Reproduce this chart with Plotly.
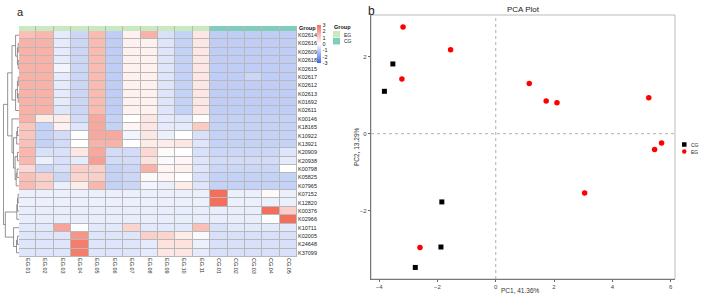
import plotly.graph_objects as go

# ---------------- data ----------------
samples = ["EG.01", "EG.02", "EG.03", "EG.04", "EG.05", "EG.06", "EG.07", "EG.08",
           "EG.09", "EG.10", "EG.11", "CG.01", "CG.02", "CG.03", "CG.04", "CG.05"]
groups = ["EG"] * 11 + ["CG"] * 5
group_names = ["EG", "CG"]
group_colors = ["#C9E9C1", "#80CDBA"]

genes = ["K02614", "K02616", "K02609", "K02618", "K02615", "K02617", "K02612", "K02613",
         "K01692", "K02611", "K00146", "K18165", "K10922", "K13921", "K20909", "K20938",
         "K00798", "K05825", "K07965", "K07152", "K12820", "K00376", "K02966", "K10711",
         "K02005", "K24648", "K37099"]

hm_values = [
    [1.3, 1.5, -0.4, -0.8, 1.4, -1.0, 0.3, 1.6, -0.6, -0.9, 0.5, -1.0, -1.0, -1.0, -1.0, -1.0],
    [1.6, 1.6, -0.4, -0.8, 1.4, -1.0, 0.3, 0.3, -0.5, -0.9, 0.5, -1.0, -1.0, -1.0, -1.0, -1.0],
    [1.6, 1.6, -0.4, -0.8, 1.4, -1.0, 0.3, 0.3, -0.5, -0.9, 0.5, -1.0, -1.0, -1.0, -1.0, -1.0],
    [1.6, 1.6, -0.4, -0.8, 1.4, -1.0, 0.3, 0.3, -0.5, -0.9, 0.5, -1.0, -1.0, -1.0, -1.0, -1.0],
    [1.6, 1.6, -0.2, -0.8, 1.4, -1.0, 0.3, 0.3, -0.5, -0.9, 0.5, -1.0, -1.0, -1.0, -1.0, -1.0],
    [1.6, 1.6, -0.4, -0.8, 1.4, -1.0, 0.3, 0.3, -0.5, -0.9, 0.5, -1.0, -1.0, -0.8, -1.0, -1.0],
    [1.6, 1.6, -0.4, -0.8, 1.4, -1.0, 0.3, 0.3, -0.5, -0.9, 0.5, -1.0, -1.0, -1.0, -1.0, -1.0],
    [1.6, 1.6, -0.4, -0.8, 1.4, -1.0, 0.3, 0.3, -0.5, -0.9, 0.5, -1.0, -1.0, -1.0, -1.0, -1.0],
    [1.6, 1.6, -0.4, -0.8, 1.4, -1.0, 0.3, 0.3, -0.5, -0.9, 0.5, -1.0, -1.0, -1.0, -1.0, -1.0],
    [1.6, 1.6, -0.5, -0.8, 1.4, -1.0, 0.3, 0.3, -0.5, -0.9, 0.5, -1.0, -1.0, -1.0, -1.0, -1.0],
    [1.6, 0.4, 0.4, -0.7, 1.8, -0.9, 0.0, 0.5, -0.4, -0.5, 0.05, -0.9, -0.9, -0.9, -0.9, -0.9],
    [1.2, -0.9, 0.3, -0.5, 1.8, -0.9, 0.2, 0.5, -0.4, -0.4, 1.1, -0.9, -0.9, -0.9, -0.9, -0.9],
    [1.2, -0.9, -0.7, -0.05, 1.8, 1.8, -0.2, 0.5, -0.3, 0.0, -0.6, -0.9, -0.9, -0.9, -0.9, -0.9],
    [1.3, -0.9, -0.7, 0.0, 1.6, 1.6, 0.0, 0.4, 0.4, 0.5, -0.5, -0.9, -0.9, -0.9, -0.9, -0.9],
    [1.5, -0.6, -0.6, 0.5, 1.8, -0.7, -0.7, 0.8, 0.1, 0.0, -0.6, -0.8, -0.8, -0.8, -0.8, -0.5],
    [1.5, -0.3, -0.6, -0.4, 2.0, -0.7, -0.7, 0.6, -0.1, 0.2, -0.5, -0.7, -0.7, -0.7, -0.7, -0.4],
    [0.8, -0.8, -0.6, 1.0, 1.0, -0.9, -0.8, 1.6, 0.2, 0.3, -0.5, -0.8, -0.8, -0.8, -0.8, 0.0],
    [1.3, 1.0, -0.8, 0.9, 1.0, -0.9, -0.8, 0.1, 0.2, 0.0, -0.6, -0.9, -0.9, -0.9, -0.9, -0.9],
    [1.4, 1.0, -0.3, 0.4, 1.5, -0.9, -0.8, -0.2, -0.3, 0.4, -0.5, -0.9, -0.9, -0.9, -0.9, -0.9],
    [-0.3, -0.3, -0.3, -0.3, -0.3, -0.3, -0.3, -0.3, -0.3, -0.3, -0.3, 3.0, -0.3, -0.3, 0.1, -0.3],
    [-0.3, -0.3, -0.3, -0.3, -0.3, -0.3, -0.3, -0.3, -0.3, -0.3, -0.3, 3.0, -0.3, -0.3, -0.3, -0.3],
    [-0.35, -0.35, -0.35, -0.35, -0.35, -0.35, -0.35, -0.35, -0.35, -0.35, -0.35, -0.35, -0.35, -0.35, 3.0, 1.0],
    [-0.35, -0.35, -0.35, -0.35, -0.35, -0.35, -0.35, -0.35, -0.35, -0.35, -0.35, -0.35, -0.35, -0.35, 0.0, 3.0],
    [-0.45, -0.45, 1.9, 0.0, -0.45, -0.45, 0.9, -0.45, -0.45, -0.45, 1.3, -0.6, -0.45, -0.45, -0.45, -0.45],
    [-0.5, -0.5, -0.5, 2.2, -0.5, -0.5, -0.5, 1.0, 0.9, 0.4, -0.1, -0.6, -0.6, -0.6, -0.6, -0.6],
    [-0.5, -0.5, -0.5, 2.7, -0.5, -0.5, -0.5, -0.4, 0.6, 0.6, -0.3, -0.6, -0.6, -0.6, -0.6, -0.6],
    [-0.5, -0.5, -0.5, 2.7, -0.5, -0.5, -0.5, -0.4, 0.5, 0.5, -0.4, -0.6, -0.6, -0.6, -0.6, -0.6],
]

# row dendrogram merges: (child a, child b, height); ids >= 27 are earlier merges
row_linkage = [
    (1, 2, 0.5), (3, 4, 0.5), (27, 28, 1.0), (0, 29, 2.2),
    (5, 6, 0.5), (7, 8, 0.5), (31, 32, 1.0), (33, 9, 2.2),
    (30, 34, 4.5),
    (11, 12, 1.0), (36, 13, 1.5), (14, 15, 1.0), (16, 17, 1.2), (39, 18, 1.8),
    (38, 40, 2.5), (37, 41, 3.5), (10, 42, 4.5),
    (35, 43, 7.3),
    (19, 20, 0.6), (45, 21, 1.0), (46, 22, 1.4), (24, 25, 1.0), (48, 26, 1.6),
    (23, 49, 3.5), (47, 50, 8.8),
    (44, 51, 10.0),
]

scale_ticks = [3, 2, 1, 0, -1, -2, -3]

pca_groups = ["CG", "EG"]
pca_colors = ["#000000", "#FF0000"]
pca_symbols = ["square", "circle"]
pca_cg_x = [-3.53, -3.82, -1.85, -1.88, -2.76]
pca_cg_y = [1.81, 1.10, -1.77, -2.94, -3.47]
pca_eg_x = [-3.18, -1.55, -3.22, 1.15, 1.73, 2.10, 5.25, 5.69, 5.45, 3.05, -2.60]
pca_eg_y = [2.77, 2.18, 1.42, 1.30, 0.85, 0.80, 0.93, -0.24, -0.41, -1.54, -2.95]
pca_x_ticks = [-4, -2, 0, 2, 4, 6]
pca_y_ticks = [-2, 0, 2]

# ---------------- layout helpers ----------------
W, H = 708, 300
FONT = "Liberation Sans, Arial, sans-serif"


def px(x):
    return x / W


def py(y):
    return 1 - y / H


fig = go.Figure()

n_rows = len(genes)
n_cols = len(samples)

# heatmap
colorscale = [[0.0, "#3F6AE6"], [0.5, "#FFFFFF"], [1.0, "#F46E5C"]]
fig.add_trace(go.Heatmap(
    z=hm_values, x=list(range(n_cols)), y=list(range(n_rows)),
    zmin=-3, zmax=3, colorscale=colorscale, xgap=1, ygap=1,
    xaxis="x", yaxis="y", hoverinfo="skip",
    colorbar=dict(thickness=4, thicknessmode="pixels", len=38, lenmode="pixels",
                  x=px(317), xanchor="left", y=py(25), yanchor="top",
                  xpad=0, ypad=0, outlinewidth=0, tickvals=scale_ticks,
                  ticktext=[str(t) for t in scale_ticks], ticks="",
                  tickfont=dict(size=5.5, family=FONT, color="#222")),
))

# group annotation bar
gidx = [group_names.index(g) for g in groups]
fig.add_trace(go.Heatmap(
    z=[gidx], x=list(range(n_cols)), y=[0], zmin=0, zmax=1,
    colorscale=[[0, group_colors[0]], [0.5, group_colors[0]], [0.5, group_colors[1]], [1, group_colors[1]]],
    showscale=False, xgap=1, ygap=0, xaxis="x", yaxis="y2", hoverinfo="skip",
))

# dendrogram
pos = {i: float(i) for i in range(n_rows)}
hgt = {i: 0.0 for i in range(n_rows)}
dx, dy = [], []
for k, (a, b, h) in enumerate(row_linkage):
    cid = n_rows + k
    for c in (a, b):
        dx += [hgt[c], h, None]
        dy += [pos[c], pos[c], None]
    dx += [h, h, None]
    dy += [pos[a], pos[b], None]
    pos[cid] = (pos[a] + pos[b]) / 2
    hgt[cid] = h
fig.add_trace(go.Scatter(x=dx, y=dy, mode="lines", line=dict(color="#666666", width=0.7),
                         xaxis="x3", yaxis="y", showlegend=False, hoverinfo="skip"))

# PCA
fig.add_trace(go.Scatter(x=pca_cg_x, y=pca_cg_y, mode="markers", name="CG", showlegend=False,
                         marker=dict(symbol=pca_symbols[0], size=5, color=pca_colors[0]),
                         xaxis="x4", yaxis="y4"))
fig.add_trace(go.Scatter(x=pca_eg_x, y=pca_eg_y, mode="markers", name="EG", showlegend=False,
                         marker=dict(symbol=pca_symbols[1], size=5.5, color=pca_colors[1]),
                         xaxis="x4", yaxis="y4"))

shapes = [
    dict(type="rect", xref="x domain", yref="y domain", x0=0, x1=1, y0=0, y1=1,
         fillcolor="#B8B8B8", line=dict(width=0), layer="below"),
    dict(type="rect", xref="x domain", yref="y2 domain", x0=0, x1=1, y0=0, y1=1,
         fillcolor="#B8B8B8", line=dict(width=0), layer="below"),
    dict(type="rect", xref="x4 domain", yref="y4 domain", x0=0, x1=1, y0=0, y1=1,
         line=dict(color="#BBBBBB", width=1), layer="below"),
    dict(type="line", xref="x4", yref="y4 domain", x0=0, x1=0, y0=0, y1=1,
         line=dict(color="#999999", width=0.8, dash="dot")),
    dict(type="line", xref="x4 domain", yref="y4", x0=0, x1=1, y0=0, y1=0,
         line=dict(color="#999999", width=0.8, dash="dot")),
]
# group legend swatches
for i, (gname, gcol) in enumerate(zip(group_names, group_colors)):
    y0 = 31 + i * 7
    shapes.append(dict(type="rect", xref="paper", yref="paper", x0=px(333), x1=px(340),
                       y0=py(y0 + 6.5), y1=py(y0), fillcolor=gcol, line=dict(width=0)))
# PCA legend swatches
for i, (gname, gcol, sym) in enumerate(zip(pca_groups, pca_colors, pca_symbols)):
    yc = 144.5 + i * 7
    shapes.append(dict(type="rect" if sym == "square" else "circle", xref="paper", yref="paper",
                       x0=px(682), x1=px(686.5), y0=py(yc + 2.25), y1=py(yc - 2.25),
                       fillcolor=gcol, line=dict(width=0)))

annotations = [
    dict(text="a", x=px(15), y=py(12), xref="paper", yref="paper", showarrow=False,
         xanchor="left", yanchor="middle", font=dict(size=11, family=FONT, color="#222")),
    dict(text="b", x=px(366), y=py(11), xref="paper", yref="paper", showarrow=False,
         xanchor="left", yanchor="middle", font=dict(size=12, family=FONT, color="#222")),
    dict(text="<b>Group</b>", x=px(297), y=py(27.5), xref="paper", yref="paper", showarrow=False,
         xanchor="left", yanchor="middle", font=dict(size=5.5, family=FONT, color="#111")),
    dict(text="<b>Group</b>", x=px(332), y=py(26.5), xref="paper", yref="paper", showarrow=False,
         xanchor="left", yanchor="middle", font=dict(size=5.5, family=FONT, color="#111")),
    dict(text="PCA Plot", x=px(523), y=py(10), xref="paper", yref="paper", showarrow=False,
         xanchor="center", yanchor="middle", font=dict(size=8, family=FONT, color="#222")),
    dict(text="PC1, 41.36%", x=px(520), y=py(290), xref="paper", yref="paper", showarrow=False,
         xanchor="center", yanchor="middle", font=dict(size=6.5, family=FONT, color="#333")),
    dict(text="PC2, 13.29%", x=px(356), y=py(147), xref="paper", yref="paper", showarrow=False,
         textangle=-90, xanchor="center", yanchor="middle", font=dict(size=6.5, family=FONT, color="#333")),
]
for i, gname in enumerate(group_names):
    annotations.append(dict(text=gname, x=px(342), y=py(34.5 + i * 7), xref="paper", yref="paper",
                            showarrow=False, xanchor="left", yanchor="middle",
                            font=dict(size=5, family=FONT, color="#222")))
for i, gname in enumerate(pca_groups):
    annotations.append(dict(text=gname, x=px(689), y=py(144.5 + i * 7), xref="paper", yref="paper",
                            showarrow=False, xanchor="left", yanchor="middle",
                            font=dict(size=5, family=FONT, color="#222")))

fig.update_layout(
    width=W, height=H, margin=dict(l=0, r=0, t=0, b=0),
    paper_bgcolor="white", plot_bgcolor="white",
    font=dict(family=FONT, size=6, color="#333"),
    showlegend=False,
    xaxis=dict(domain=[px(19), px(297)], anchor="y", range=[-0.5, n_cols - 0.5],
               tickvals=list(range(n_cols)), ticktext=samples, tickangle=90, ticks="",
               showgrid=False, zeroline=False, showline=False,
               tickfont=dict(size=5.5, family=FONT, color="#333")),
    yaxis=dict(domain=[py(257), py(31)], anchor="x", range=[n_rows - 0.5, -0.5],
               tickvals=list(range(n_rows)), ticktext=genes, side="right", ticks="",
               showgrid=False, zeroline=False, showline=False,
               tickfont=dict(size=5.5, family=FONT, color="#222")),
    yaxis2=dict(domain=[py(31), py(26)], anchor="x", range=[-0.5, 0.5],
                showticklabels=False, ticks="", showgrid=False, zeroline=False),
    xaxis3=dict(domain=[px(3), px(19)], anchor="y", range=[10.3, 0],
                showticklabels=False, ticks="", showgrid=False, zeroline=False, showline=False),
    xaxis4=dict(domain=[px(371), px(675)], anchor="y4", range=[-4.28, 6.15],
                tickvals=pca_x_ticks, ticks="outside", ticklen=2, tickcolor="#666",
                showline=True, linecolor="#777", linewidth=1.2, showgrid=False, zeroline=False,
                tickfont=dict(size=6, family=FONT, color="#444")),
    yaxis4=dict(domain=[py(279), py(15)], anchor="x4", range=[-3.77, 3.08],
                tickvals=pca_y_ticks, ticks="outside", ticklen=2, tickcolor="#666",
                showline=True, linecolor="#777", linewidth=1.2, showgrid=False, zeroline=False,
                tickfont=dict(size=6, family=FONT, color="#444")),
    shapes=shapes,
    annotations=annotations,
)

fig.write_html("out.html")
